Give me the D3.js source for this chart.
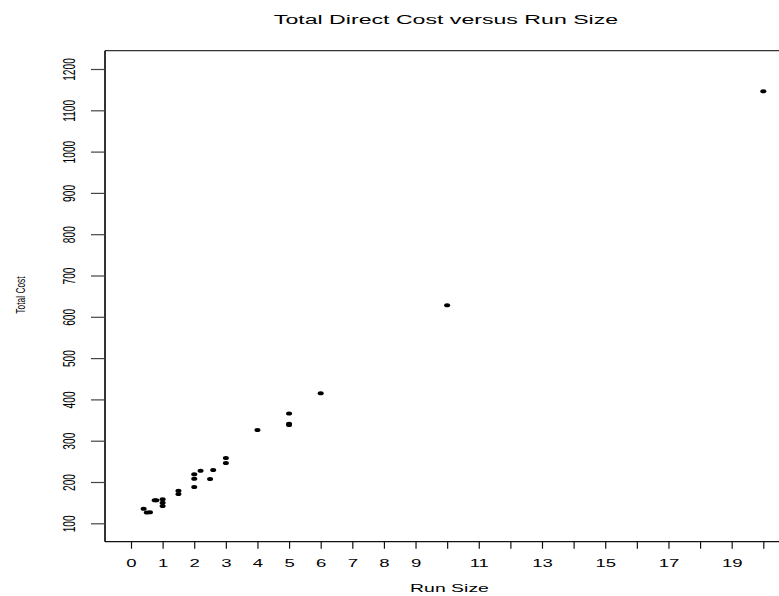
<!DOCTYPE html>
<html>
<head>
<meta charset="utf-8">
<script src="https://cdn.jsdelivr.net/npm/d3@7/dist/d3.min.js"></script>
<style>
  html, body { margin: 0; padding: 0; background: #fff; }
  svg { display: block; }
  text { font-family: "Liberation Sans", Arial, sans-serif; fill: #000; }
</style>
</head>
<body>
<svg id="chart" width="779" height="596"></svg>
<script>
// ---- data ----
const runSize = [0.4, 0.5, 0.6, 0.75, 0.8, 1, 1, 1, 1.5, 1.5, 2, 2, 2, 2.2, 2.5, 2.6, 3, 3, 4, 5, 5, 5, 6, 10, 20];
const totalCost = [135, 126, 127, 156, 156, 158, 150, 142, 179, 171, 219, 208, 188, 227, 207, 229, 258, 246, 326, 366, 341, 338, 415, 628, 1146];
const xTickValues = d3.range(0, 21, 1);
const xTickLabels = ["0","1","2","3","4","5","6","7","8","9","","11","","13","","15","","17","","19",""];
const yTickValues = [100, 200, 300, 400, 500, 600, 700, 800, 900, 1000, 1100, 1200];
const titleText = "Total Direct Cost versus Run Size";
const xLabel = "Run Size";
const yLabel = "Total Cost";

// ---- layout ----
const svg = d3.select("#chart");
const frame = { left: 105, top: 50.7, right: 779, bottom: 541.7 };
const x = d3.scaleLinear().domain([0, 20]).range([131, 763.3]);
const y = d3.scaleLinear().domain([100, 1200]).range([523.3, 69]);

// frame
svg.append("line").attr("x1", frame.left).attr("x2", frame.right).attr("y1", frame.top).attr("y2", frame.top)
  .attr("stroke", "#333").attr("stroke-width", 1.2);
svg.append("line").attr("x1", frame.left).attr("x2", frame.right).attr("y1", frame.bottom).attr("y2", frame.bottom)
  .attr("stroke", "#111").attr("stroke-width", 1.2);
svg.append("line").attr("x1", frame.left).attr("x2", frame.left).attr("y1", frame.top).attr("y2", frame.bottom)
  .attr("stroke", "#000").attr("stroke-width", 1.6);

// x axis
const xAxis = d3.axisBottom(x).tickValues(xTickValues).tickSize(7).tickFormat((d, i) => xTickLabels[i]);
const gx = svg.append("g").attr("transform", `translate(0,${frame.bottom})`).call(xAxis);
gx.select(".domain").remove();
gx.selectAll(".tick line").attr("stroke", "#111").attr("stroke-width", 1.2);
gx.selectAll(".tick text")
  .attr("y", 0).attr("dy", 0)
  .attr("transform", "translate(0,25) scale(1.8,1)")
  .attr("font-size", 10.3).attr("font-family", "Liberation Sans, Arial, sans-serif")
  .attr("fill", "#000");

// y axis
const yAxis = d3.axisLeft(y).tickValues(yTickValues).tickSize(14).tickFormat(d3.format("d"));
const gy = svg.append("g").attr("transform", `translate(${frame.left},0)`).call(yAxis);
gy.select(".domain").remove();
gy.selectAll(".tick line").attr("stroke", "#444").attr("stroke-width", 1.2);
gy.selectAll(".tick text")
  .attr("x", 0).attr("dy", 0)
  .attr("text-anchor", "middle")
  .attr("transform", "translate(-30,0) rotate(-90) scale(1,1.65)")
  .attr("font-size", 10.2).attr("font-family", "Liberation Sans, Arial, sans-serif")
  .attr("fill", "#000");

// points
svg.append("g").selectAll("ellipse").data(runSize.map((d, i) => [d, totalCost[i]])).join("ellipse")
  .attr("cx", d => x(d[0])).attr("cy", d => y(d[1]))
  .attr("rx", 3).attr("ry", 2).attr("fill", "#000");

// title
svg.append("text").attr("text-anchor", "middle")
  .attr("transform", "translate(446,24) scale(1.85,1)")
  .attr("font-size", 12.5).text(titleText);

// x label
svg.append("text").attr("text-anchor", "middle")
  .attr("transform", "translate(449.5,592) scale(1.8,1)")
  .attr("font-size", 10.8).text(xLabel);

// y label
svg.append("text").attr("text-anchor", "middle")
  .attr("transform", "translate(24.5,295) rotate(-90) scale(1,1.5)")
  .attr("font-size", 8.4).text(yLabel);
</script>
</body>
</html>
